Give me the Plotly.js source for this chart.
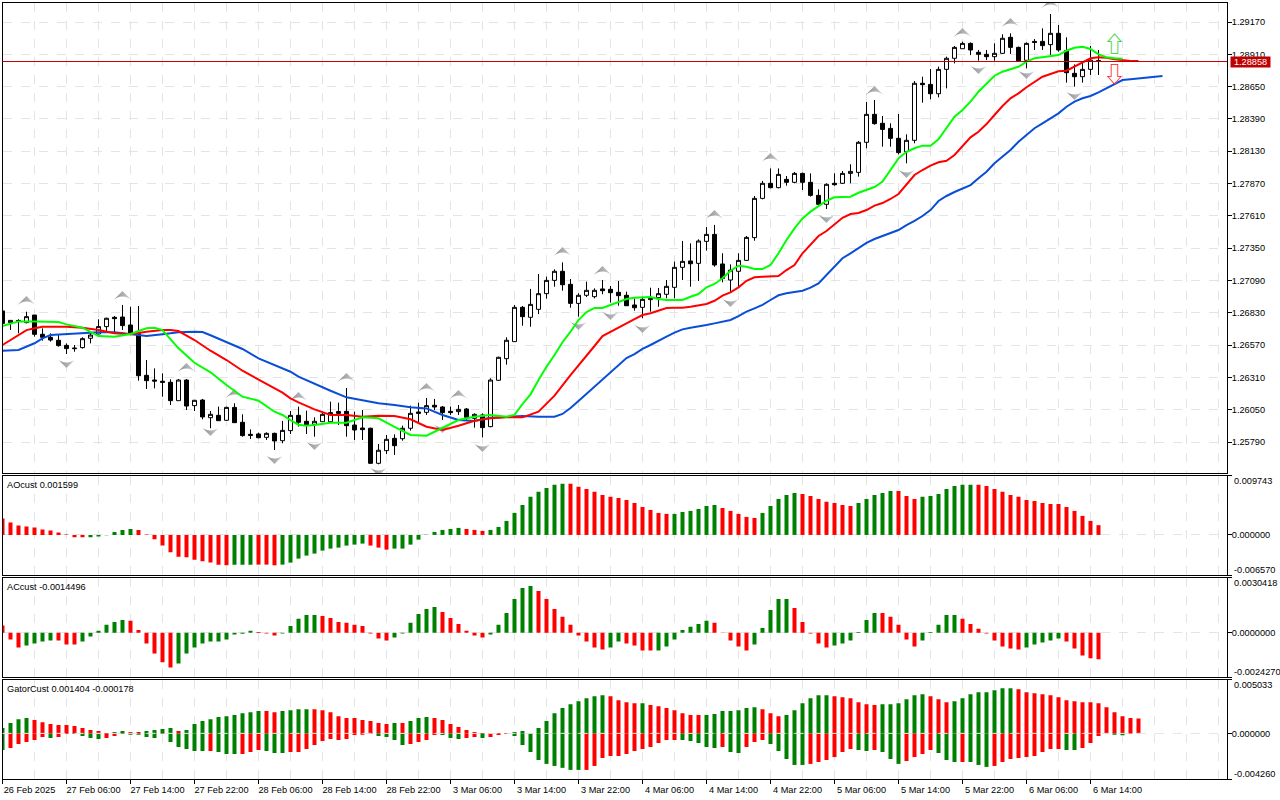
<!DOCTYPE html>
<html><head><meta charset="utf-8">
<script src="https://cdn.plot.ly/plotly-3.0.1.min.js"></script>
<style>html,body{margin:0;padding:0;background:#fff}#c{width:1280px;height:800px}</style>
</head><body><div id="c"></div>
<script>
const opens=[1.26845,1.26751,1.26759,1.26751,1.26812,1.26657,1.26633,1.26609,1.26568,1.26547,
1.2655,1.26625,1.2666,1.26719,1.26794,1.26796,1.26732,1.26665,1.26327,1.26289,
1.26279,1.26271,1.26123,1.26289,1.26083,1.26128,1.25986,1.26005,1.25965,1.26069,
1.25949,1.25852,1.25855,1.25828,1.2586,1.25801,1.25882,1.26005,1.25957,1.25933,
1.25954,1.25954,1.26035,1.26037,1.25927,1.25903,1.25901,1.25619,1.25721,1.2582,
1.25817,1.25901,1.26032,1.26029,1.26086,1.26072,1.26037,1.26035,1.26056,1.25981,
1.26008,1.25914,1.26287,1.26461,1.26598,1.26874,1.26794,1.26858,1.26984,1.27091,
1.27164,1.27059,1.26906,1.26971,1.2696,1.27022,1.27019,1.26995,1.26971,1.26893,
1.26874,1.26936,1.26952,1.26979,1.27035,1.27196,1.27247,1.27228,1.27405,1.27461,
1.27223,1.27094,1.27164,1.27252,1.27435,1.27751,1.27872,1.27837,1.27904,1.2788,
1.27952,1.2788,1.27775,1.27703,1.27872,1.27872,1.27952,1.2796,1.28202,1.28427,
1.28355,1.28314,1.28234,1.28127,1.28218,1.28677,1.28668,1.28593,1.28789,1.28878,
1.28955,1.28998,1.28926,1.2891,1.28891,1.28918,1.29047,1.28966,1.28862,1.29014,
1.29014,1.28988,1.29079,1.28939,1.28757,1.2873,1.28789,1.28856];
const highs=[1.26845,1.26772,1.26778,1.26839,1.26812,1.26705,1.26665,1.26651,1.26584,1.26571,
1.26633,1.26678,1.26778,1.26791,1.26804,1.26893,1.26879,1.26885,1.2645,1.26383,
1.26343,1.26295,1.26297,1.26297,1.26129,1.26137,1.2604,1.26075,1.26075,1.26102,
1.26013,1.25892,1.25866,1.25868,1.25866,1.2596,1.2604,1.26075,1.26043,1.25989,
1.26035,1.26115,1.26107,1.26225,1.26035,1.26048,1.25906,1.25774,1.25847,1.25852,
1.25922,1.26083,1.26107,1.26145,1.26137,1.2608,1.26075,1.26088,1.26064,1.26021,
1.26021,1.26303,1.26477,1.26633,1.26893,1.26885,1.27022,1.27142,1.27121,1.2718,
1.27236,1.27102,1.26987,1.27081,1.27027,1.27094,1.27046,1.27086,1.27,1.26946,
1.2696,1.27032,1.2703,1.27094,1.27242,1.27408,1.27389,1.27421,1.2752,1.27537,
1.27309,1.2722,1.27309,1.27448,1.2777,1.27891,1.27992,1.27992,1.27931,1.27963,
1.27958,1.27952,1.27824,1.27872,1.27952,1.27971,1.28025,1.28213,1.28526,1.28542,
1.28414,1.28355,1.2843,1.28266,1.28695,1.2873,1.28792,1.28811,1.28891,1.28977,
1.29012,1.29006,1.28945,1.28945,1.28998,1.29071,1.29079,1.28972,1.29006,1.29033,
1.29119,1.29234,1.29146,1.29047,1.28829,1.28851,1.28977,1.28945];
const lows=[1.26719,1.26692,1.26665,1.26745,1.26638,1.26606,1.26598,1.26558,1.26499,1.26517,
1.26542,1.26584,1.26657,1.26678,1.26673,1.26692,1.26651,1.26284,1.26217,1.26222,
1.26155,1.26088,1.26123,1.26048,1.2604,1.25973,1.25901,1.25962,1.25962,1.25946,
1.25833,1.25815,1.2582,1.25807,1.25726,1.2578,1.25855,1.25914,1.25855,1.25833,
1.25954,1.25954,1.25927,1.25833,1.25807,1.25807,1.25614,1.25611,1.25694,1.25686,
1.25801,1.25882,1.25941,1.26008,1.26048,1.25968,1.26008,1.26008,1.25968,1.25906,
1.25828,1.25909,1.26284,1.26413,1.26598,1.26726,1.26718,1.2682,1.26944,1.2704,
1.27008,1.26871,1.26799,1.26957,1.26946,1.26979,1.26912,1.26887,1.26887,1.26847,
1.26786,1.26839,1.26879,1.26947,1.26947,1.27094,1.2704,1.27086,1.2733,1.27201,
1.27075,1.26992,1.2704,1.2725,1.2741,1.27743,1.27832,1.27832,1.27853,1.27872,
1.27818,1.27765,1.27697,1.27665,1.27853,1.27866,1.27872,1.27926,1.28154,1.28344,
1.28167,1.28167,1.28105,1.28033,1.28194,1.28521,1.28548,1.28564,1.28636,1.28837,
1.28953,1.28904,1.28859,1.28864,1.28859,1.28913,1.28913,1.28856,1.28797,1.28945,
1.28945,1.28904,1.28931,1.28682,1.2865,1.28682,1.28744,1.28744];
const closes=[1.26745,1.26769,1.26767,1.26799,1.26657,1.26633,1.26611,1.26566,1.26542,1.26542,
1.26622,1.26651,1.26719,1.26786,1.26783,1.26727,1.26665,1.26324,1.26284,1.26281,
1.26271,1.26123,1.26289,1.2608,1.26126,1.25992,1.26013,1.25962,1.26069,1.25946,
1.25842,1.25844,1.25825,1.2586,1.25799,1.25884,1.26005,1.25949,1.25925,1.25957,
1.26013,1.26027,1.26021,1.25922,1.25887,1.2589,1.25619,1.25724,1.25812,1.25761,
1.25901,1.26021,1.26021,1.26083,1.26072,1.26027,1.26027,1.26053,1.25989,1.26013,
1.25906,1.26289,1.26472,1.26609,1.26874,1.26799,1.26898,1.26984,1.27091,1.27164,
1.27056,1.26906,1.26971,1.27011,1.27011,1.27008,1.26992,1.26968,1.26887,1.26871,
1.26938,1.26947,1.26984,1.27043,1.27196,1.27244,1.27225,1.27408,1.27461,1.27215,
1.27107,1.27174,1.27252,1.27437,1.27751,1.27872,1.27837,1.27944,1.2788,1.27952,
1.2788,1.27775,1.27703,1.27864,1.27861,1.27952,1.27968,1.28202,1.28427,1.28352,
1.28306,1.28234,1.28119,1.28218,1.28677,1.28666,1.28593,1.28789,1.28878,1.28966,
1.28998,1.28945,1.2891,1.28891,1.28918,1.29039,1.28966,1.28856,1.28998,1.29006,
1.2898,1.29079,1.28945,1.28762,1.2873,1.28789,1.28864,1.28858];

const greenIdx=[0,2,4,6,7,8,10,12,14,16,18,19,20,22,24,26,28,30,32,34,35,36,37,38,39,41,43,45,47,49,51,53,55,57,59,61,63,64,65,66,67,68,69,70,71,72,73,74,75,76,77,78,79,80,81,82,83,84,85,86,87,88,89,90,91,92,93,94,95,96,97,98,99,100,101,102,103,104,105,106,107,108,109,110,111,112,113,114,115,116,117,118,119,120,121,122,123,124,125,126,127,128,129,130,131,132,133,134,135,136,137,138,139,140];
const greenVals=[1.26724,1.26761,1.26761,1.26756,1.26756,1.26737,1.2671,1.26643,1.26638,1.26659,1.26705,1.2671,1.26691,1.26544,1.26428,1.26351,1.26249,1.26155,1.26123,1.26034,1.26008,1.25967,1.25929,1.25921,1.25927,1.25946,1.25946,1.25989,1.25981,1.25913,1.25847,1.25841,1.25901,1.25967,1.25994,1.26008,1.25994,1.26008,1.26096,1.26174,1.26289,1.26396,1.2649,1.26593,1.26678,1.26772,1.26836,1.26869,1.26869,1.26893,1.26919,1.26941,1.26951,1.26957,1.26957,1.26941,1.26933,1.26933,1.26933,1.26959,1.26981,1.27035,1.27062,1.27108,1.27169,1.27209,1.27201,1.27182,1.27182,1.27215,1.27309,1.27416,1.2751,1.2759,1.27644,1.27689,1.27732,1.27759,1.27759,1.27764,1.27796,1.27818,1.27842,1.27887,1.27979,1.28073,1.28126,1.28154,1.28175,1.28175,1.28226,1.28315,1.28408,1.28462,1.28529,1.28609,1.28677,1.28738,1.2877,1.28792,1.2881,1.28851,1.28878,1.28886,1.28896,1.28904,1.28939,1.28963,1.28971,1.28953,1.2891,1.28886,1.28878,1.28875];
const redIdx=[0,2,3,4,5,8,10,12,14,16,18,20,21,22,24,26,28,30,32,34,35,36,37,39,41,43,45,47,49,51,53,55,57,59,61,63,65,67,69,71,72,73,74,75,76,77,78,79,80,81,82,83,84,85,86,87,88,89,90,91,92,93,94,95,96,97,98,99,100,101,102,103,104,105,106,107,108,109,110,111,112,113,114,115,116,117,118,119,120,121,122,123,124,125,126,127,128,129,130,131,132,133,134,135,136,137,138,139,140,141,142];
const redVals=[1.26571,1.26651,1.26691,1.26705,1.26718,1.26718,1.2671,1.26691,1.26665,1.26657,1.26678,1.26691,1.26691,1.26683,1.26611,1.26525,1.2645,1.26364,1.26295,1.26222,1.26187,1.26142,1.2611,1.26053,1.26008,1.26008,1.25994,1.26002,1.25999,1.25973,1.25913,1.25887,1.25921,1.25962,1.25981,1.25989,1.25989,1.26034,1.26163,1.26329,1.2641,1.26482,1.26563,1.26643,1.26675,1.2671,1.26745,1.2678,1.26812,1.26826,1.2685,1.26869,1.26871,1.26871,1.26879,1.2689,1.26901,1.26927,1.26968,1.26995,1.27035,1.27088,1.27116,1.2712,1.2712,1.27126,1.27174,1.27215,1.27309,1.27375,1.27448,1.27488,1.27544,1.27595,1.27625,1.27633,1.27657,1.27693,1.27713,1.27746,1.27786,1.27858,1.27939,1.27979,1.28014,1.28041,1.28054,1.281,1.28175,1.28242,1.28287,1.28349,1.28422,1.28494,1.28556,1.28596,1.28645,1.2869,1.2873,1.28752,1.28773,1.28778,1.2881,1.28842,1.28878,1.28886,1.28883,1.2887,1.28862,1.28856,1.28856];
const blueIdx=[0,2,4,5,6,8,10,12,14,16,18,20,22,24,25,26,28,30,32,34,35,36,37,39,41,43,45,47,49,51,53,55,57,59,61,63,65,67,69,70,71,72,73,74,75,76,77,78,79,80,81,82,83,84,85,86,87,88,89,90,91,92,93,94,95,96,97,98,99,100,101,102,103,104,105,106,107,108,109,110,111,112,113,114,115,116,117,118,119,120,121,122,123,124,125,126,127,128,129,130,131,132,133,134,135,136,137,138,139,140,141,142,143,144,145];
const blueVals=[1.26525,1.26531,1.26585,1.26625,1.26651,1.26659,1.2667,1.26673,1.26673,1.26657,1.26643,1.26657,1.26673,1.26678,1.26675,1.26649,1.26593,1.26539,1.26464,1.2641,1.26383,1.26356,1.26316,1.26257,1.26203,1.2615,1.26128,1.26102,1.26088,1.2607,1.26061,1.26008,1.25967,1.25959,1.25986,1.25994,1.25999,1.25994,1.25994,1.26016,1.26064,1.2612,1.26177,1.26233,1.26289,1.26354,1.2641,1.26466,1.26498,1.26539,1.26571,1.26607,1.26639,1.26671,1.26697,1.2671,1.26724,1.26732,1.26745,1.26758,1.26772,1.26804,1.26839,1.26866,1.26893,1.26933,1.26971,1.26987,1.26995,1.27008,1.27032,1.27067,1.27134,1.27201,1.27269,1.27309,1.27351,1.27392,1.27424,1.27448,1.27472,1.27496,1.27536,1.27569,1.27609,1.27657,1.2773,1.2777,1.27802,1.27832,1.27858,1.27912,1.27965,1.28033,1.28086,1.2814,1.28207,1.28261,1.28315,1.28355,1.28395,1.28435,1.28488,1.28529,1.28556,1.28575,1.28604,1.28636,1.28671,1.28703,1.28709,1.28717,1.28723,1.28727,1.28735];

const fractalUpIdx=[3,15,23,29,37,43,53,57,70,75,89,96,109,120,126,131];
const fractalUpVals=[1.26965,1.27005,1.26426,1.26216,1.26192,1.26345,1.26265,1.26208,1.27359,1.27206,1.27657,1.28116,1.28655,1.29121,1.29202,1.29355];
const fractalDownIdx=[8,26,34,39,47,55,60,72,76,80,91,103,113,122,128,134];
const fractalDownVals=[1.26386,1.25839,1.25614,1.25726,1.25517,1.25863,1.2571,1.26692,1.26772,1.26668,1.26877,1.27553,1.27915,1.28752,1.28712,1.28543];

const aoVals=[.00268,.00202,.00153,.00137,.0012,.00088,.00071,.00038,.00005,-.00038,-.00038,-.00038,-.00027,-.00005,.00049,.00082,.00098,.00082,.00005,-.00071,-.00175,-.00284,-.00356,-.00366,-.00405,-.00432,-.00454,-.00487,-.00498,-.00487,-.00487,-.00487,-.00487,-.00487,-.00498,-.00487,-.00454,-.00388,-.00339,-.00306,-.00257,-.00224,-.00208,-.00175,-.00159,-.00142,-.00175,-.00208,-.00241,-.00224,
-.00224,-.00159,-.00077,.00005,.00049,.00082,.00098,.00115,.00098,.00082,.00066,.00082,.00131,.0023,.00361,.00492,.00624,.00706,.00771,.00821,.00837,.00837,.00788,.00755,.00706,.00656,.00624,.00607,.00574,.00525,.00459,.0041,.00361,.00345,.00345,.00377,.00394,.00427,.00476,.00492,.00443,.00394,.00345,.00295,.00279,.00361,.00476,.00591,.00656,.00689,
.00673,.0064,.00591,.00542,.00525,.00492,.00476,.00525,.00591,.00656,.00689,.00722,.00722,.0064,.00591,.00624,.0064,.00673,.00755,.00804,.00821,.00821,.00821,.00804,.00755,.00706,.00656,.00624,.00574,.00558,.00525,.00509,.00509,.00459,.00394,.00312,.0023,.0016];
const aoColorRuns=['r',11,'g',6,'r',12,'g',3,'r',3,'g',11,'r',3,'g',9,'r',3,'g',10,'r',13,'g',6,'r',5,'g',5,'r',7,'g',5,'r',3,'g',7,'r',16];
const acVals=[.0004,-.00036,-.0008,-.00069,-.00058,-.00047,-.00042,-.00042,-.00064,-.00064,-.00047,-.0002,.00011,.00044,.0006,.00071,.00066,.00016,-.00058,-.00113,-.00162,-.0019,-.00168,-.00113,-.0008,-.00058,-.00047,-.00047,-.00036,-.00009,-.00005,.00011,.00005,-.00004,-.00015,-.00004,.00038,.00077,.00098,.00098,.00093,.00082,.0006,.00055,.00044,.00038,-.00004,-.00031,-.00042,-.00026,
-.00004,.00055,.00104,.00131,.00142,.00115,.00082,.00049,.00011,-.00015,-.00026,-.00009,.00044,.00109,.00186,.00246,.00257,.0023,.00186,.00131,.00088,.00044,-.00015,-.00047,-.0008,-.00091,-.0008,-.00047,-.00058,-.00069,-.00097,-.00097,-.00097,-.00075,-.00036,.00016,.00033,.00049,.00066,.00055,.00002,-.00042,-.00075,-.00097,-.00064,.00027,.00126,.00186,.00186,.00137,
.0006,-.00004,-.00058,-.0008,-.00069,-.00058,-.00042,.00004,.00071,.00109,.00109,.00088,.00044,-.00036,-.00075,-.00042,.00004,.00044,.00098,.00098,.00077,.00049,.00022,-.00004,-.00042,-.00075,-.00086,-.00091,-.0008,-.00064,-.00053,-.00042,-.00031,-.00047,-.00086,-.00124,-.0014,-.00145];
const acColorRuns=['r',3,'g',4,'r',3,'g',6,'r',6,'g',10,'r',3,'g',5,'r',9,'g',6,'r',6,'g',6,'r',9,'g',2,'r',4,'g',7,'r',5,'g',5,'r',5,'g',6,'r',5,'g',5,'r',8,'g',5,'r',5];
const gatorUpVals=[.0005,.00096,.00133,.00143,.00124,.00105,.00087,.00078,.00078,.00068,.0005,.00031,.00022,.00003,.00012,.00022,.00012,.00012,.00022,.00031,.0004,.0005,.00022,.00031,.00087,.00115,.00133,.00152,.00161,.00171,.00189,.00198,.00208,.00208,.00198,.00208,.00217,.00226,.00226,.00226,.00217,.00198,.00161,.00143,.00143,.00124,.00115,.00096,.00087,.00096,
.00096,.00115,.00143,.00152,.00143,.00124,.00087,.00059,.00031,.00012,.00003,.00003,.00003,.00003,.00012,.00022,.00003,.0005,.00115,.00189,.00236,.00273,.00301,.00329,.00347,.00357,.00347,.0031,.00291,.00282,.00282,.00264,.00254,.00236,.00217,.00189,.00171,.00171,.00171,.0018,.00208,.00208,.00217,.00236,.00245,.00226,.00189,.00161,.00171,.00217,
.00282,.00329,.00357,.00357,.00347,.00338,.00329,.00291,.00273,.00264,.00273,.00273,.00282,.00319,.00357,.00366,.00347,.00319,.00291,.00301,.00329,.00366,.00384,.00384,.00403,.00422,.00422,.00412,.00384,.00375,.00366,.00357,.00338,.0031,.00301,.00291,.00291,.00282,.00245,.00198,.00161,.00143,.0014];
const gatorUpColorRuns=['g',4,'r',10,'g',2,'r',2,'g',4,'r',1,'g',10,'r',2,'g',4,'r',10,'g',1,'r',1,'g',3,'r',10,'g',12,'r',4,'g',1,'r',7,'g',7,'r',3,'g',6,'r',6,'g',6,'r',3,'g',8,'r',16];
const gatorDownVals=[-.00155,-.00136,-.00099,-.00081,-.00062,-.00034,-.00043,-.00034,-.00006,-.00006,-.00025,-.00043,-.00053,-.00043,-.00025,-.00003,-.00012,-.00012,-.00034,-.00043,-.00003,-.00081,-.00127,-.00146,-.00164,-.00164,-.00164,-.00174,-.00192,-.00192,-.00192,-.00174,-.00155,-.00164,-.00183,-.00183,-.00174,-.00174,-.00146,-.00109,-.00071,-.00053,-.00062,-.00053,-.00016,-.00012,-.00003,-.00025,-.00034,-.00062,
-.00109,-.00099,-.00081,-.00062,-.00016,-.00016,-.00043,-.00053,-.00043,-.00034,-.00043,-.00034,-.00016,-.00006,-.00025,-.00109,-.00174,-.00248,-.00285,-.00304,-.00322,-.00341,-.00341,-.00341,-.00304,-.00229,-.00211,-.00211,-.00192,-.00164,-.00146,-.00127,-.0009,-.00062,-.00062,-.00062,-.00071,-.0009,-.00127,-.00136,-.00127,-.00174,-.00183,-.00127,-.00081,-.00062,-.00099,-.00164,-.00239,-.00295,
-.00295,-.00285,-.00267,-.00248,-.0022,-.00174,-.00146,-.00155,-.00164,-.00155,-.00174,-.00239,-.00285,-.00257,-.0022,-.00192,-.00155,-.00183,-.00248,-.00267,-.00267,-.00267,-.00295,-.00313,-.00304,-.00267,-.00239,-.00229,-.0022,-.00211,-.00174,-.00146,-.00146,-.00155,-.00155,-.00136,-.0009,-.00025,-.00006,-.00012,-.00018];
const gatorDownColorRuns=['g',1,'r',5,'g',1,'r',2,'g',4,'r',3,'g',4,'r',1,'g',5,'r',1,'g',3,'r',3,'g',3,'r',11,'g',3,'g',1,'r',4,'g',3,'r',2,'g',1,'r',3,'g',9,'r',12,'g',5,'r',1,'g',2,'r',3,'g',5,'r',6,'g',2,'r',1,'g',3,'r',4,'g',3,'r',1,'g',3,'r',9,'g',2,'r',4,'g',2];

const priceTicks=[1.2917,1.2891,1.2865,1.2839,1.2813,1.2787,1.2761,1.2735,1.2709,1.2683,1.2657,1.2631,1.2605,1.2579];
const priceTickLabels=['1.29170','1.28910','1.28650','1.28390','1.28130','1.27870','1.27610','1.27350','1.27090','1.26830','1.26570','1.26310','1.26050','1.25790'];
const timeTicks=[0,8,16,24,32,40,48,56,64,72,80,88,96,104,112,120,128,136];
const timeLabels=['26 Feb 2025','27 Feb 06:00','27 Feb 14:00','27 Feb 22:00','28 Feb 06:00','28 Feb 14:00','28 Feb 22:00','3 Mar 06:00','3 Mar 14:00','3 Mar 22:00','4 Mar 06:00','4 Mar 14:00','4 Mar 22:00','5 Mar 06:00','5 Mar 14:00','5 Mar 22:00','6 Mar 06:00','6 Mar 14:00'];
const gridIdx=[4,12,20,28,36,44,52,60,68,76,84,92,100,108,116,124,132,140,144,148,152];
const lastPriceLine=1.28852;
const lastPriceText='1.28858';
const arrowIdx=[139];
const arrowUpVal=[1.28977];
const arrowDownVal=[1.28735];

const C={r:'#ff0000',g:'#008000'};
function expand(runs){const o=[];for(let k=0;k<runs.length;k+=2)for(let n=0;n<runs[k+1];n++)o.push(C[runs[k]]);return o;}
const ix=a=>a.map((_,i)=>i);
const bar=(y,runs,ya)=>({type:'bar',x:ix(y),y:y,xaxis:ya.x,yaxis:ya.y,width:0.5,marker:{color:expand(runs),line:{width:0}},showlegend:false,hoverinfo:'skip'});
const line=(x,y,c)=>({type:'scatter',mode:'lines',x:x,y:y,line:{color:c,width:2,shape:'linear'},showlegend:false,hoverinfo:'skip'});
const frac=(x,y,ang)=>({type:'scatter',mode:'markers',x:x,y:y,marker:{symbol:'arrow-wide',size:13,angle:ang,color:'#8f8a80',gradient:{type:'horizontal',color:'#c8d0de'},line:{width:0}},showlegend:false,hoverinfo:'skip'});

const traces=[
 frac(fractalUpIdx,fractalUpVals,0),
 frac(fractalDownIdx,fractalDownVals,180),
 {type:'candlestick',x:ix(opens),open:opens,high:highs,low:lows,close:closes,whiskerwidth:0,
  increasing:{line:{color:'#000',width:1},fillcolor:'#fff'},decreasing:{line:{color:'#000',width:1},fillcolor:'#000'},showlegend:false,hoverinfo:'skip'},
 line(blueIdx,blueVals,'#0a4ed8'),
 line(redIdx,redVals,'#ff0000'),
 line(greenIdx,greenVals,'#00ff00'),
 {type:'scatter',mode:'text',x:arrowIdx,y:arrowUpVal,text:['⇧'],textfont:{family:'Noto Sans CJK SC, DejaVu Sans',size:22,color:'#33cc33'},showlegend:false,hoverinfo:'skip'},
 {type:'scatter',mode:'text',x:arrowIdx,y:arrowDownVal,text:['⇩'],textfont:{family:'Noto Sans CJK SC, DejaVu Sans',size:22,color:'#ff2020'},showlegend:false,hoverinfo:'skip'},
 bar(aoVals,aoColorRuns,{x:'x2',y:'y2'}),
 bar(acVals,acColorRuns,{x:'x3',y:'y3'}),
 bar(gatorUpVals,gatorUpColorRuns,{x:'x4',y:'y4'}),
 bar(gatorDownVals,gatorDownColorRuns,{x:'x4',y:'y4'})
];

const W=1280,H=800,L=2.5,R=1227;
const dom=(t,b)=>[(H-b)/H,(H-t)/H];
const FONT='Liberation Sans';
const FS=9.2;
const GRID='#e4e4e4';
const xRange=[0,(R-L)/8];
const xBase=(anchor,last)=>({domain:[L/W,R/W],range:xRange,anchor:anchor,type:'linear',
  tickmode:'array',tickvals:timeTicks,ticktext:last?timeLabels:timeTicks.map(()=>''),tickangle:0,
  showticklabels:!!last,ticks:last?'outside':'',ticklen:4,tickcolor:'#000',tickwidth:1,ticklabelshift:27,ticklabelstandoff:-2,
  showgrid:true,gridcolor:GRID,griddash:'dash',gridwidth:1,zeroline:false,
  minor:{tickmode:'array',tickvals:gridIdx,showgrid:true,gridcolor:GRID,griddash:'dash',gridwidth:1,ticks:''},
  showline:true,mirror:true,linecolor:'#000',linewidth:1,fixedrange:true,tickfont:{family:FONT,size:FS,color:'#000'}});
const yBase=(anchor,d,r,vals,txt)=>({domain:d,range:r,anchor:anchor,side:'right',type:'linear',
  tickmode:'array',tickvals:vals,ticktext:txt,ticks:'outside',ticklen:4,tickcolor:'#000',tickwidth:1,ticklabelstandoff:-2,
  showgrid:true,gridcolor:GRID,griddash:'dash',gridwidth:1,zeroline:false,
  showline:true,mirror:true,linecolor:'#000',linewidth:1,fixedrange:true,tickfont:{family:FONT,size:FS,color:'#000'}});

const xm=Object.assign(xBase('y',false),{rangeslider:{visible:false}});
const note=(t,y)=>({text:t,xref:'paper',yref:'paper',x:4.5/W,y:(H-y)/H,xanchor:'left',yanchor:'middle',showarrow:false,font:{family:FONT,size:FS,color:'#000'}});
const scaleNote=(t,y)=>({text:t,xref:'paper',yref:'paper',x:1231.5/W,y:(H-y)/H,xanchor:'left',yanchor:'middle',showarrow:false,font:{family:FONT,size:FS,color:'#000'}});

const layout={width:W,height:H,margin:{l:0,r:0,t:0,b:0,pad:0},paper_bgcolor:'#fff',plot_bgcolor:'#fff',showlegend:false,
 barmode:'overlay',boxgap:0.5,boxgroupgap:0,
 xaxis:xm,
 yaxis:yBase('x',dom(2.5,473),[1.25541,1.29327],priceTicks,priceTickLabels),
 xaxis2:xBase('y2',false),
 yaxis2:yBase('x2',dom(475.5,575),[-.00657,.009743],[-.00657,0,.009743],['','0.000000','']),
 xaxis3:xBase('y3',false),
 yaxis3:yBase('x3',dom(577.5,677),[-.002427,.0030418],[-.002427,0,.0030418],['','0.0000000','']),
 xaxis4:xBase('y4',true),
 yaxis4:yBase('x4',dom(679.5,779),[-.00426,.005033],[-.00426,0,.005033],['','0.000000','']),
 shapes:[
  {type:'line',xref:'paper',yref:'y',x0:L/W,x1:R/W,y0:lastPriceLine,y1:lastPriceLine,line:{color:'#c00000',width:1}},
  {type:'line',xref:'paper',yref:'y4',x0:L/W,x1:R/W,y0:0,y1:0,layer:'above',line:{color:'#e8e8e8',width:1,dash:'dash'}}
 ],
 annotations:[
  note('AOcust 0.001599',484.5),note('ACcust -0.0014496',586.5),note('GatorCust 0.001404 -0.000178',688.5),
  scaleNote('0.009743',481),scaleNote('-0.006570',569.5),
  scaleNote('0.0030418',583),scaleNote('-0.0024270',671.5),
  scaleNote('0.005033',684.5),scaleNote('-0.004260',773.5),
  {text:lastPriceText,xref:'paper',yref:'y',x:1230/W,y:lastPriceLine,xanchor:'left',yanchor:'middle',showarrow:false,
   bgcolor:'#c00000',borderpad:0,width:39,height:10,align:'center',font:{family:FONT,size:FS,color:'#fff'}}
 ]
};
Plotly.newPlot('c',traces,layout,{staticPlot:true,displayModeBar:false,responsive:false});
</script></body></html>
